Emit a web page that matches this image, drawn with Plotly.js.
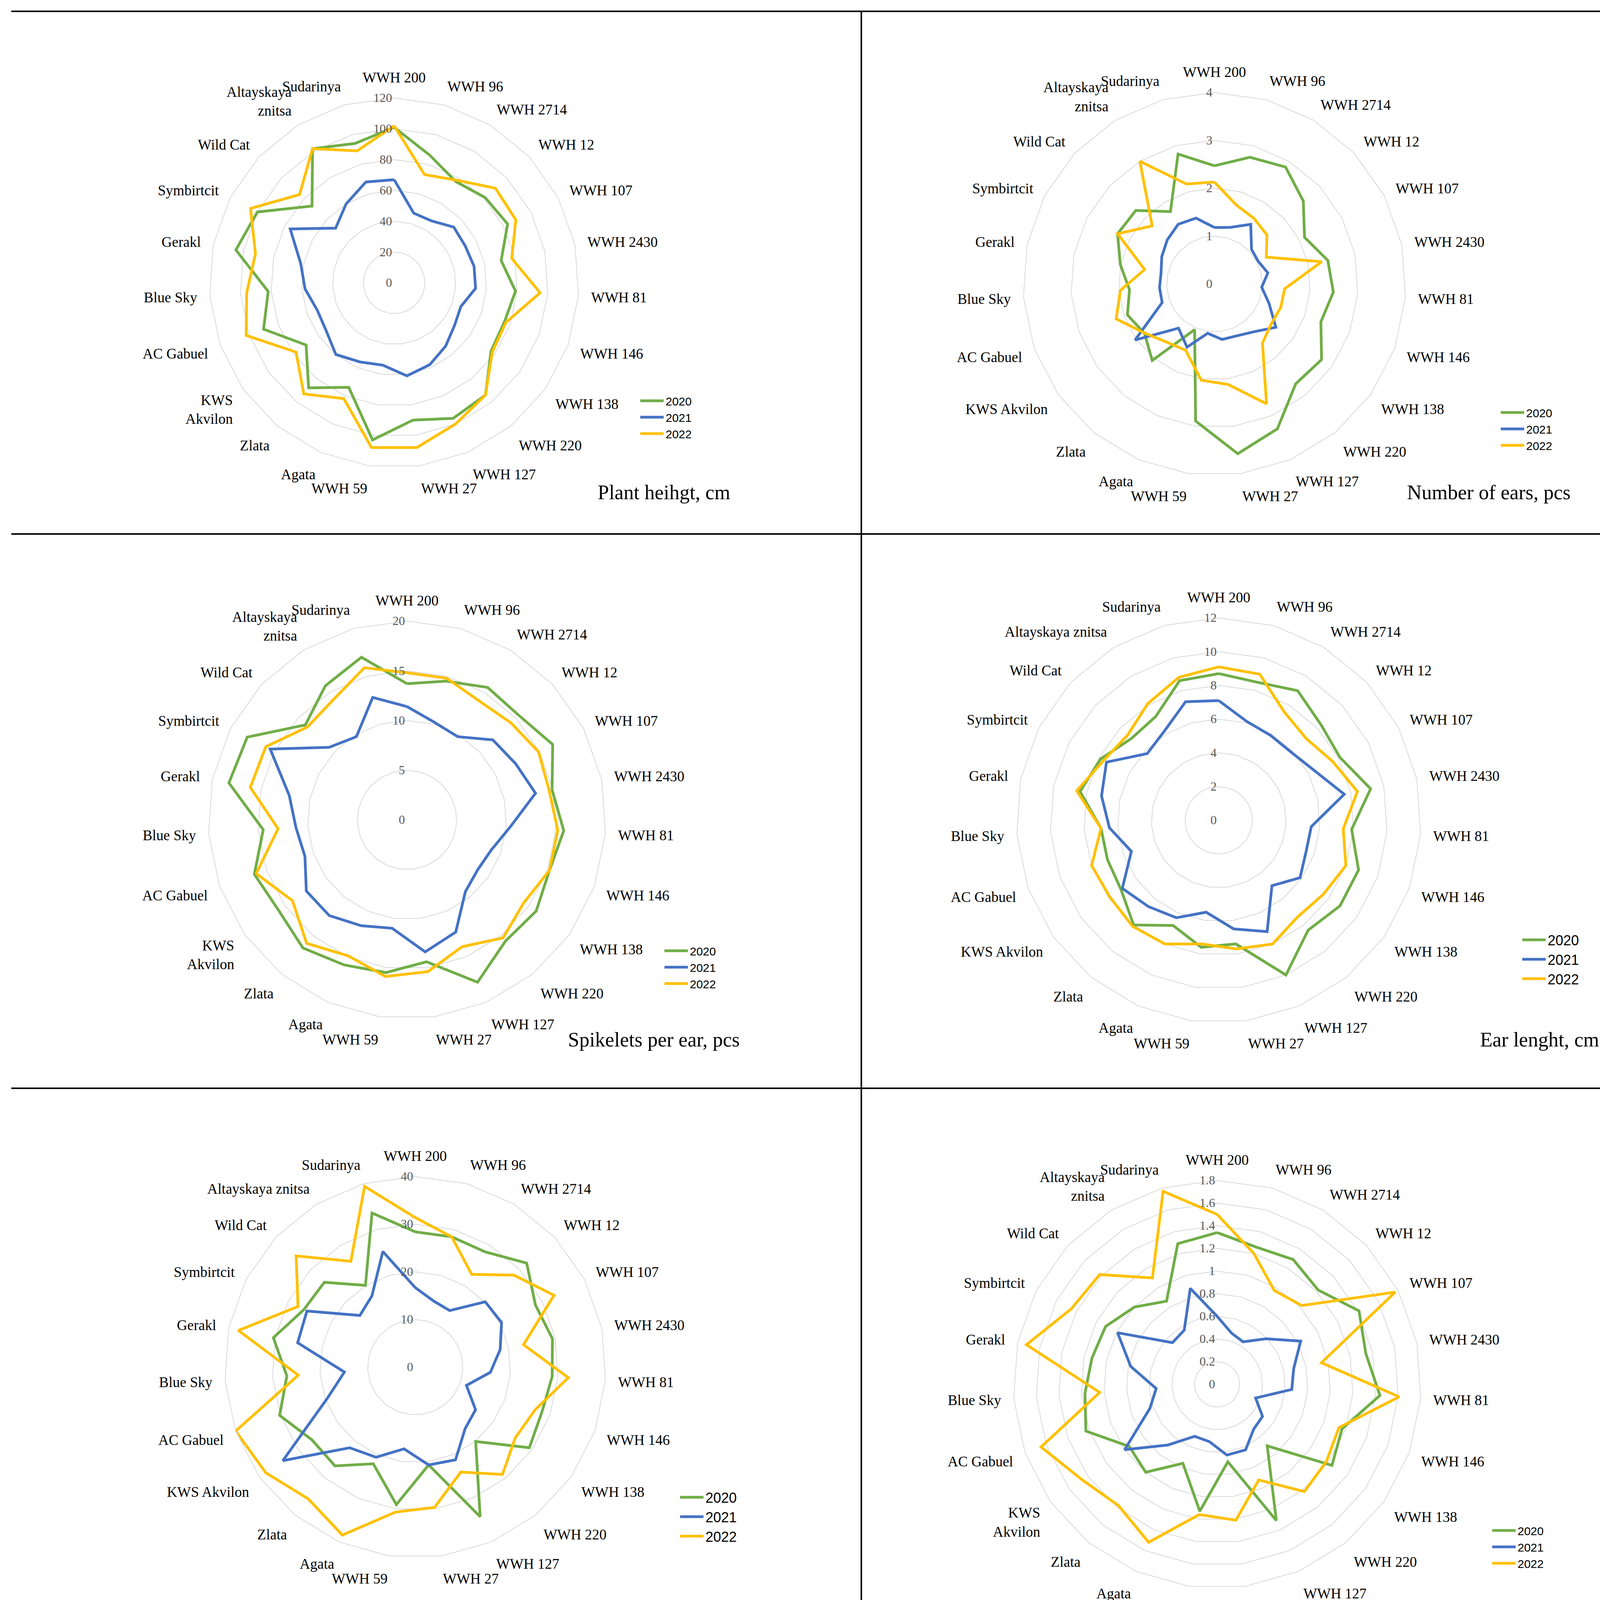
<!DOCTYPE html>
<html><head><meta charset="utf-8">
<script src="https://cdn.plot.ly/plotly-3.0.1.min.js"></script>
<style>html,body{margin:0;padding:0;background:#fff;overflow:hidden}#chart{width:4260px;height:5733px}</style>
</head><body><div id="chart"></div>
<script>
const categories = ["WWH 200","WWH 96","WWH 2714","WWH 12","WWH 107","WWH 2430","WWH 81","WWH 146","WWH 138","WWH 220","WWH 127","WWH 27","WWH 59","Agata","Zlata","KWS Akvilon","AC Gabuel","Blue Sky","Gerakl","Symbirtcit","Wild Cat","Altayskaya znitsa","Sudarinya"];
const years = ["2020","2021","2022"];

// Plant height, cm
const height2020 = [101,86,77,81,83,71,79,76,77,94,96,90,103,74,88,70,90,82,105,100,73,102,94];
const height2021 = [67,47,47,53,52,53,53,46,48,53,58,61,54,56,60,54,53,58,62,76,52,60,68];
const height2022 = [102,73,78,90,89,78,95,77,78,94,100,108,108,82,93,78,102,96,92,105,84,102,89];
// Number of ears, pcs
const ears2020 = [2.47,2.75,2.86,2.54,2.12,2.42,2.49,2.36,2.74,2.69,3.30,3.58,2.89,1.04,2.06,1.79,1.93,1.78,2.01,2.28,2.25,1.77,2.82];
const ears2021 = [1.18,1.23,1.46,1.06,1.03,1.14,0.99,1.21,1.57,1.29,1.18,1.17,1.04,1.44,1.19,2.03,1.16,1.15,1.14,1.24,1.35,1.46,1.43];
const ears2022 = [2.13,1.71,1.60,1.50,1.22,2.29,1.47,1.47,1.45,1.59,2.73,2.12,2.03,1.51,1.57,1.78,2.18,1.97,1.49,2.28,1.78,3.0,2.17];
// Spikelets per ear, pcs
const spik2020 = [13.7,14.5,15.6,15.4,16.5,14.9,15.8,15.2,15.9,15.7,17.8,14.4,15.5,15.9,16.6,15.8,16.3,14.5,18.3,18.1,14.0,15.8,17.0];
const spik2021 = [11.4,10.2,9.8,11.8,12.3,13.2,10.4,9.0,8.7,9.3,12.3,13.4,11.0,11.6,12.4,12.4,10.9,11.2,12.1,15.5,10.7,9.8,12.8];
const spik2022 = [14.8,14.8,14.0,14.3,14.9,14.6,15.2,15.2,14.4,15.3,13.9,15.4,15.9,14.9,16.0,14.1,16.1,13.0,16.1,16.0,13.7,14.2,15.9];
// Ear length, cm
const earlen2020 = [8.7,8.5,9.0,8.3,8.1,9.2,7.9,8.8,8.8,8.4,10.0,7.4,7.6,6.8,8.0,7.1,7.0,7.0,8.4,7.9,7.1,7.2,8.6];
const earlen2021 = [7.1,6.1,5.9,5.9,6.4,7.6,5.5,5.5,5.9,5.0,7.2,6.5,5.5,6.3,6.6,7.0,5.5,6.5,7.1,7.5,5.8,6.2,7.3];
const earlen2022 = [9.1,9.0,7.5,7.1,7.6,8.4,7.4,8.0,7.6,7.4,8.0,7.7,7.4,8.0,8.1,7.9,8.0,7.0,8.6,7.7,7.4,8.1,8.8];
// Grains per ear, pcs
const grains2020 = [28.4,28.4,28.3,32.0,28.4,29.4,28.8,28.2,29.3,20.1,34.2,20.7,29.1,22.1,26.7,26.5,30.2,27.0,30.4,26.3,26.1,20.1,33.6];
const grains2021 = [16.7,14.4,13.9,20.1,20.4,18.2,15.8,11.4,15.5,16.6,21.2,20.7,17.3,20.6,21.8,34.0,19.6,14.9,25.2,25.6,15.9,17.5,25.2];
const grains2022 = [31.4,28.4,22.8,28.3,32.8,23.2,32.2,26.7,25.7,29.0,24.0,29.7,30.7,38.4,35.6,38.4,40.0,24.6,37.9,27.7,34.2,26.0,39.4];
// Grain weight per ear, g
const gw2020 = [1.34,1.26,1.29,1.22,1.41,1.34,1.44,1.17,1.24,0.70,1.31,0.69,1.13,0.76,1.00,0.95,1.23,1.17,1.13,1.11,1.00,0.86,1.29];
const gw2021 = [0.60,0.47,0.44,0.59,0.83,0.69,0.66,0.36,0.49,0.51,0.63,0.63,0.51,0.50,0.69,1.00,0.63,0.54,0.78,0.99,0.54,0.56,0.88];
const gw2022 = [1.50,1.20,0.97,1.02,1.77,0.94,1.61,1.14,1.18,1.22,0.92,1.21,1.16,1.52,1.38,1.46,1.65,1.04,1.72,1.45,1.42,1.10,1.77];
// Straw weight, g/10 plants
const straw2020 = [38.8,41.6,43.2,42.0,38.6,37.2,44.6,38.7,45.5,42.2,67.5,43.3,41.7,10.9,29.7,45.4,28.2,27.1,36.3,38.7,30.2,24.4,48.5];
const straw2021 = [8,7,6,7,7,17,6,7,10,6,7,9,8,7,6,19,6,4,7,15,9,8,12];
const straw2022 = [40.7,25.1,20.7,21.6,20.7,26.2,25.7,21.1,22.6,22.8,35.7,33.6,33.6,19.2,20.8,24.3,32.3,27.1,25.4,34.8,27.2,41.9,36.0];
// Yield, g/m2
const yield2020 = [1248,1318,1387,1180,1116,1222,1364,1032,1281,728,1663,908,1279,307,781,635,878,819,847,930,803,577,1378];
const yield2021 = [300,227,216,235,314,293,256,185,295,227,254,287,217,286,322,781,275,242,427,477,322,252,471];
const yield2022 = [1197,798,571,579,842,797,928,649,718,746,953,993,896,881,823,914,1344,774,917,1222,945,1234,1447];

const W = 4260, H = 5733;
const colors = ["#70AD47","#4472C4","#FFC000"];
const serif = "Liberation Serif, DejaVu Serif, serif";

const panels = [
 {series:[height2020,height2021,height2022], max:120, step:20, cx:1009, cy:724, R:473, title:"Plant heihgt, cm", tx:1871, ty:1261, lx:1634, ly:1000, lf:30, gap:32, wrap:{"KWS Akvilon":"KWS<br>Akvilon","Altayskaya znitsa":"Altayskaya<br>znitsa"}},
 {series:[ears2020,ears2021,ears2022], max:4, step:1, cx:3109, cy:727, R:490, title:"Number of ears, pcs", tx:4023, ty:1261, lx:3837, ly:1030, lf:30, gap:30, wrap:{"Altayskaya znitsa":"Altayskaya<br>znitsa"}},
 {series:[spik2020,spik2021,spik2022], max:20, step:5, cx:1042, cy:2099, R:509, title:"Spikelets per ear, pcs", tx:1896, ty:2661, lx:1696, ly:2408, lf:30, gap:32, wrap:{"KWS Akvilon":"KWS<br>Akvilon","Altayskaya znitsa":"Altayskaya<br>znitsa"}},
 {series:[earlen2020,earlen2021,earlen2022], max:12, step:2, cx:3120, cy:2100, R:518, title:"Ear lenght, cm", tx:4096, ty:2661, lx:3892, ly:2376, lf:36, gap:34, wrap:{}},
 {series:[grains2020,grains2021,grains2022], max:40, step:10, cx:1063, cy:3500, R:488, title:"Grains per ear, pcs", tx:1962, ty:4135, lx:1736, ly:3803, lf:36, gap:38, wrap:{}},
 {series:[gw2020,gw2021,gw2022], max:1.8, step:0.2, cx:3116, cy:3544, R:522, title:"Grain weight per ear, g", tx:4001, ty:4168, lx:3815, ly:3892, lf:30, gap:34, wrap:{"KWS Akvilon":"KWS<br>Akvilon","Altayskaya znitsa":"Altayskaya<br>znitsa"}},
 {series:[straw2020,straw2021,straw2022], max:70, step:10, cx:1004, cy:5050, R:486, title:"Straw weight,<br>g/10 plants", tx:1935, ty:5520, lx:1755, ly:5176, lf:36, gap:34, wrap:{}},
 {series:[yield2020,yield2021,yield2022], max:1800, step:200, cx:3136, cy:5078, R:504, title:"Yield, g/m2", tx:4034, ty:5587, lx:3852, ly:5333, lf:30, gap:32, wrap:{"Altayskaya znitsa":"Altayskaya<br>znitsa"}}
];

const traces = [];
const layout = {width:W, height:H, margin:{l:0,r:0,t:0,b:0}, paper_bgcolor:"#fff", showlegend:true, shapes:[], annotations:[]};

panels.forEach((p, k) => {
  const pid = k === 0 ? "polar" : "polar" + (k+1);
  const lid = k === 0 ? "legend" : "legend" + (k+1);
  p.series.forEach((vals, j) => {
    traces.push({type:"scatterpolar", mode:"lines", subplot:pid, legend:lid,
      r: vals.concat([vals[0]]), theta: categories.concat([categories[0]]),
      name: years[j], legendgroup: "g"+k+"_"+j,
      line:{color:colors[j], width:7}, hoverinfo:"skip"});
  });
  const ticks = [];
  for (let v = 0; v <= p.max + 1e-9; v += p.step) ticks.push(+v.toFixed(2));
  layout[pid] = {
    domain:{x:[(p.cx-p.R)/W,(p.cx+p.R)/W], y:[1-(p.cy+p.R)/H, 1-(p.cy-p.R)/H]},
    gridshape:"linear", bgcolor:"rgba(0,0,0,0)",
    radialaxis:{range:[0,p.max], tickvals:ticks, ticktext:ticks.map(String), angle:90, tickangle:90,
      side:"counterclockwise", showline:false, ticks:"", gridcolor:"#d9d9d9", gridwidth:2,
      tickfont:{family:serif, size:32, color:"#595959"}},
    angularaxis:{type:"category", categoryarray:categories, direction:"clockwise", rotation:90,
      tickvals:categories, ticktext:categories.map(c => p.wrap[c] || c),
      showgrid:false, showline:true, linecolor:"#d9d9d9", linewidth:2,
      ticks:"outside", ticklen:24, tickcolor:"rgba(0,0,0,0)",
      tickfont:{family:serif, size:37, color:"#000"}}
  };
  layout[lid] = {x:p.lx/W, y:1-p.ly/H, xanchor:"left", yanchor:"top", bgcolor:"rgba(0,0,0,0)",
    font:{family:"Liberation Sans, Arial, sans-serif", size:p.lf, color:"#000"},
    tracegroupgap:p.gap, itemwidth:60, traceorder:"normal"};
  const multi = p.title.indexOf("<br>") >= 0;
  layout.annotations.push({xref:"paper", yref:"paper", x:p.tx/W, y:1-p.ty/H,
    xanchor:"right", yanchor:"middle", align: multi ? "center" : "right",
    text:p.title, showarrow:false, font:{family:serif, size:52, color:"#000"}});
});

// table lines
const hl = [29,1367,2786,4325,5703];
hl.forEach(y => layout.shapes.push({type:"line", xref:"paper", yref:"paper", x0:29/W, x1:4238/W, y0:1-y/H, y1:1-y/H, line:{color:"#000", width:4}}));
layout.shapes.push({type:"line", xref:"paper", yref:"paper", x0:2205/W, x1:2205/W, y0:1-29/H, y1:1-5703/H, line:{color:"#000", width:4}});

Plotly.newPlot("chart", traces, layout, {staticPlot:true});
</script></body></html>
